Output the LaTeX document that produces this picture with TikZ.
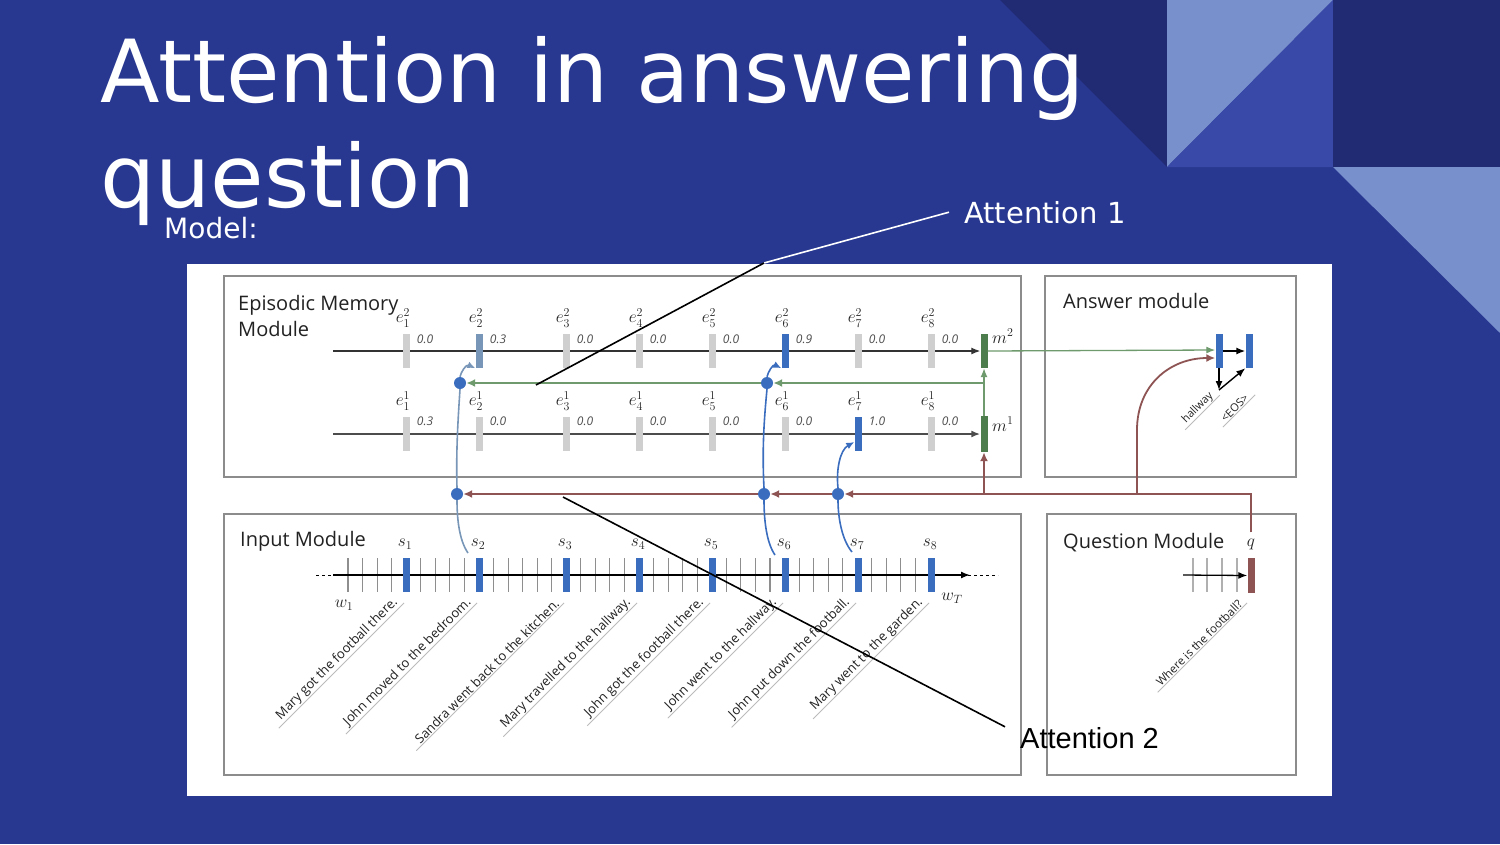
\documentclass[tikz,border=0pt]{standalone}
\usepackage{fontspec}
\setmainfont{Open Sans}
\newfontfamily\titlefont{DejaVu Sans}
\newfontfamily\arialfont{Liberation Sans}
\usetikzlibrary{arrows.meta}
\definecolor{bgblue}{HTML}{283891}
\definecolor{darkblue}{HTML}{212B73}
\definecolor{lightblue}{HTML}{7890CC}
\definecolor{midblue}{HTML}{3949A8}
\definecolor{boxgray}{HTML}{8C8C8C}
\definecolor{bargray}{HTML}{CFCFCF}
\definecolor{tickgray}{HTML}{8E8E8E}
\definecolor{barblue}{HTML}{3A6DBE}
\definecolor{steel}{HTML}{7896B8}
\definecolor{mgreen}{HTML}{4D7D4D}
\definecolor{lgreen}{HTML}{6E9A6E}
\definecolor{mbrown}{HTML}{8E5454}
\definecolor{txtdark}{HTML}{222222}
\definecolor{ulgray}{HTML}{BBBBBB}
\tikzset{
  modbox/.style={draw=boxgray, line width=1.8pt, rectangle, inner sep=0pt},
  modlab/.style={font=\fontsize{20}{24}\selectfont, text=txtdark, anchor=base west, inner sep=0pt},
  bar/.style={rectangle, inner sep=0pt, minimum width=7pt, minimum height=34pt},
  elab/.style={font=\fontsize{17}{17}\selectfont, text=txtdark, inner sep=0pt},
  vlab/.style={font=\fontsize{12}{12}\selectfont\itshape, text=txtdark!80, inner sep=0pt},
  tickln/.style={draw=tickgray, line width=1.1pt},
  dotn/.style={circle, fill=barblue, inner sep=0pt, minimum size=12pt},
  blk/.style={draw=black, line width=1.4pt, -{Latex[length=9pt,width=7pt]}},
  greenl/.style={draw=lgreen, line width=2.4pt, -{Latex[length=9pt,width=8pt]}},
  greenthin/.style={draw=lgreen, line width=1.3pt, -{Latex[length=9pt,width=7pt]}},
  brownl/.style={draw=mbrown, line width=1.8pt},
  browna/.style={brownl, -{Latex[length=9pt,width=8pt]}},
  bluec/.style={draw=barblue, line width=1.6pt},
  steelc/.style={draw=steel, line width=1.6pt},
  sent/.style={rotate=45, anchor=south east, inner sep=1pt, font=\fontsize{13}{13}\selectfont, text=txtdark},
  uline/.style={draw=ulgray, line width=0.8pt},
  pointer/.style={line width=1.6pt}
}
\begin{document}
\begin{tikzpicture}[x=1pt,y=-1pt]
\useasboundingbox (0,0) rectangle (1500,844);
% background and decoration
\fill[bgblue] (0,0) rectangle (1500,844);
\fill[darkblue] (1000,0) -- (1167,0) -- (1167,167) -- cycle;
\fill[lightblue] (1167,0) -- (1333,0) -- (1167,167) -- cycle;
\fill[midblue] (1333,0) -- (1333,167) -- (1167,167) -- cycle;
\fill[darkblue] (1333,0) rectangle (1500,167);
\fill[lightblue] (1333,167) -- (1500,167) -- (1500,333) -- cycle;
% titles
\node[anchor=base west, inner sep=0pt, text=white, font=\titlefont\fontsize{87}{100}\selectfont] (t1) at (100,102) {Attention in answering};
\node[anchor=base west, inner sep=0pt, text=white, font=\titlefont\fontsize{87}{100}\selectfont] (t2) at (100,207) {question};
\node[anchor=base west, inner sep=0pt, text=white, font=\titlefont\fontsize{28}{30}\selectfont] (model) at (164,238) {Model:};
\node[anchor=base west, inner sep=0pt, text=white, font=\titlefont\fontsize{29}{30}\selectfont] (att1) at (964,223) {Attention 1};
% white panel
\fill[white] (187,264) rectangle (1332,796);
% module boxes
\node[modbox, minimum width=797pt, minimum height=201pt] (emm) at (622.5,376.5) {};
\node[modbox, minimum width=251pt, minimum height=201pt] (ans) at (1170.5,376.5) {};
\node[modbox, minimum width=797pt, minimum height=261pt] (inp) at (622.5,644.5) {};
\node[modbox, minimum width=249pt, minimum height=261pt] (que) at (1171.5,644.5) {};
\node[modlab] (emml1) at (238,310) {Episodic Memory};
\node[modlab] (emml2) at (238,336) {Module};
\node[modlab] (ansl) at (1063,308) {Answer module};
\node[modlab] (inpl) at (240,546) {Input Module};
\node[modlab] (quel) at (1063,548) {Question Module};
% memory bars m
\node[bar, fill=mgreen] (m2) at (984,351) {};
\node[bar, fill=mgreen, minimum height=36pt] (m1) at (984,434) {};
\node[elab, anchor=west] (m2l) at (992,336) {$m^{2}$};
\node[elab, anchor=west] (m1l) at (992,424) {$m^{1}$};
% memory lines
\draw[draw=black!80, line width=1.3pt, -{Latex[length=9pt,width=7pt]}] (333,351) -- (m2.west);
\draw[draw=black!70, line width=2pt, -{Latex[length=9pt,width=7pt]}] (333,434) -- (m1.west);
% episodic bars pass 2
\foreach \x/\v/\c [count=\i] in {406/0.0/bargray,479/0.3/steel,566/0.0/bargray,639/0.0/bargray,712/0.0/bargray,785/0.9/barblue,858/0.0/bargray,931/0.0/bargray}{
  \node[bar, fill=\c] (eb\i) at (\x,351) {};
  \node[elab] (ebl\i) at (\x-3,318) {$e^{2}_{\i}$};
  \node[vlab] (ebv\i) at (\x+19,339) {\v};
}
% episodic bars pass 1
\foreach \x/\v/\c [count=\i] in {406/0.3/bargray,479/0.0/bargray,566/0.0/bargray,639/0.0/bargray,712/0.0/bargray,785/0.0/bargray,858/1.0/barblue,931/0.0/bargray}{
  \node[bar, fill=\c] (ea\i) at (\x,434) {};
  \node[elab] (eal\i) at (\x-3,401) {$e^{1}_{\i}$};
  \node[vlab] (eav\i) at (\x+19,421) {\v};
}
% answer module
\node[bar, fill=barblue] (a1) at (1219,351) {};
\node[bar, fill=barblue] (a2) at (1249,351) {};
\coordinate (hw) at (1219,390);
\draw[blk] (a1.east) -- (a2.west);
\draw[blk] (a1.south) -- (hw);
\draw[blk] (hw) -- (a2.south west);
\node[sent, font=\fontsize{11}{11}\selectfont] (hwl) at (1217,398) {hallway};
\draw[uline, shorten <=-4pt, shorten >=-4pt] (hwl.south east) -- (hwl.south west);
\node[sent, font=\fontsize{11}{11}\selectfont] (eos) at (1251,399) {\textless{}EOS\textgreater{}};
\draw[uline, shorten <=-6pt, shorten >=-4pt] (eos.south east) -- (eos.south west);
% input module sequence
\draw[draw=black, line width=0.6pt, dashed] (316,575) -- (333,575);
\draw[draw=black, line width=0.6pt, dashed] (968,575) -- (998,575);
\foreach \k in {0,...,40}{
  \pgfmathsetmacro\tx{348+14.55*\k}
  \draw[tickln] (\tx,558) -- (\tx,592);
}
\draw[draw=black, line width=1.4pt, -{Latex[length=9pt,width=7pt]}] (333,575) -- (970,575);
\foreach \x [count=\i] in {406,479,566,639,712,785,858,931}{
  \node[bar, fill=barblue] (s\i) at (\x,575) {};
  \node[elab] (sl\i) at (\x-1,544) {$s_{\i}$};
}
\node[elab] (w1) at (344,605) {$w_{1}$};
\node[elab] (wT) at (952,598) {$w_{T}$};
% sentences
\foreach \x/\t [count=\i] in {406/Mary got the football there.,479/John moved to the bedroom.,566/Sandra went back to the kitchen.,639/Mary travelled to the hallway.,712/John got the football there.,785/John went to the hallway.,858/John put down the football.,931/Mary went to the garden.}{
  \node[sent] (sn\i) at (\x-4,605) {\t};
  \draw[uline, shorten <=-3pt, shorten >=-6pt] (sn\i.south east) -- (sn\i.south west);
}
% question module
\foreach \x in {1193,1207,1222,1237}{
  \draw[tickln, draw=tickgray!70] (\x,558) -- (\x,592);
}
\node[bar, fill=mbrown, minimum height=35pt] (q) at (1251,575.5) {};
\node[elab] (ql) at (1251,544) {$q$};
\draw[draw=black, line width=1.3pt, -{Latex[length=9pt,width=7pt]}] (1183,575) -- (q.west);
\node[sent, font=\fontsize{11.5}{11.5}\selectfont] (qs) at (1245,605) {Where is the football?};
\draw[uline, shorten <=-3pt, shorten >=-5pt] (qs.south east) -- (qs.south west);
% dots
\node[dotn] (d2g) at (460,383) {};
\node[dotn] (d6g) at (767,383) {};
\node[dotn] (d2b) at (457,494) {};
\node[dotn] (d6b) at (764,494) {};
\node[dotn] (d7b) at (838,494) {};
% green connectors
\coordinate (gj) at (984,383);
\draw[greenthin] (m1.north) -- (m2.south);
\draw[greenl] (gj) -- (d6g.east);
\draw[greenl] (d6g.west) -- (d2g.east);
\draw[greenthin] (m2.east) -- ([yshift=1pt]a1.west);
% brown connectors
\coordinate (qb) at (1251,494);
\coordinate (bm) at (984,494);
\coordinate (ba) at (1137,494);
\draw[browna] ([yshift=6pt]ql.north) -- (qb) -- (d7b.east);
\draw[browna] (d7b.west) -- (d6b.east);
\draw[browna] (d6b.west) -- (d2b.east);
\draw[browna] (bm) -- (m1.south);
\draw[browna] (ba) -- (1137,430) .. controls (1137,385) and (1170,358) .. ([yshift=-7pt]a1.west);
% blue attention curves
\draw[steelc] (468,553) .. controls (459,540) and (457,518) .. (d2b.south);
\draw[steelc] (d2b.north) .. controls (456,450) and (458,420) .. (d2g.south);
\draw[steelc, -{Latex[length=8pt,width=7pt]}] (d2g.north) .. controls (461,372) and (466,364) .. (eb2.south west);
\draw[bluec] (775,555) .. controls (766,542) and (764,518) .. (d6b.south);
\draw[bluec] (d6b.north) .. controls (762,450) and (764,420) .. (d6g.south);
\draw[bluec, -{Latex[length=8pt,width=7pt]}] (d6g.north) .. controls (768,372) and (773,364) .. (eb6.south west);
\draw[bluec] (852,552) .. controls (842,540) and (838,518) .. (d7b.south);
\draw[bluec, -{Latex[length=8pt,width=7pt]}] (d7b.north) .. controls (836,470) and (840,450) .. ([yshift=-8pt]ea7.west);
% pointers
\coordinate (a1k) at (764,263);
\coordinate (a1e) at (536,385);
\draw[pointer, draw=white] ([xshift=-15pt]att1.west) -- (a1k);
\draw[pointer, draw=black] (a1k) -- (a1e);
\node[anchor=base west, inner sep=0pt, text=black, font=\arialfont\fontsize{29}{30}\selectfont] (att2) at (1020,748) {Attention 2};
\coordinate (a2s) at (563,497);
\draw[pointer, draw=black] (a2s) -- ([xshift=-15pt]att2.north west);
\end{tikzpicture}
\end{document}
